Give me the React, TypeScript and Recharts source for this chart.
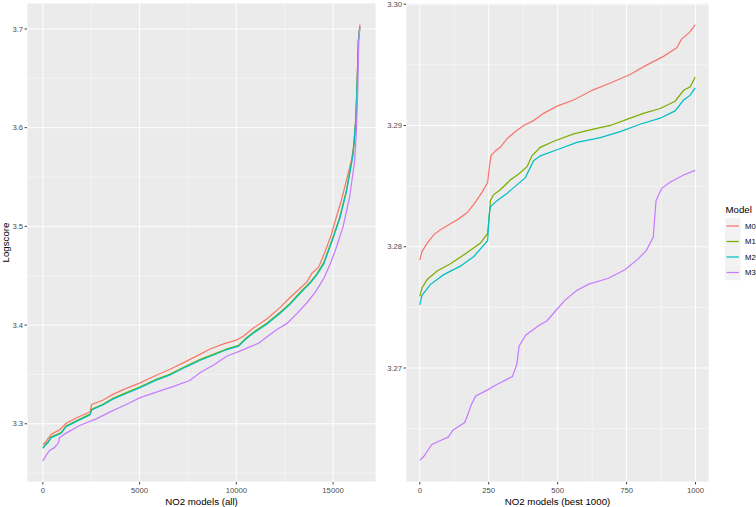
import { CartesianGrid, Legend, Line, LineChart, XAxis, YAxis } from "recharts";

type Pt = [number, number];

const models = ["M0", "M1", "M2", "M3"];
const colors = ["#F8766D", "#7CAE00", "#00BFC4", "#C77CFF"];

// left panel: all 16k models, sorted logscore
const allM0: Pt[] = [
  [0, 3.2789], [150, 3.2815], [260, 3.2848], [430, 3.2895], [860, 3.2938], [1200, 3.3005],
  [1720, 3.3058], [2330, 3.3112], [2450, 3.3125], [2520, 3.3195], [3100, 3.3238], [3620, 3.3298],
  [4310, 3.3358], [5000, 3.3412], [5860, 3.3492], [6550, 3.355], [7410, 3.3632], [8140, 3.3705],
  [8650, 3.3758], [9340, 3.381], [10000, 3.3848], [10380, 3.3889], [10900, 3.3972], [11590, 3.4065],
  [12280, 3.4182], [12790, 3.4282], [13310, 3.4375], [13650, 3.4438], [13910, 3.4525], [14260, 3.4589],
  [14570, 3.4735], [14910, 3.4915], [15170, 3.5095], [15430, 3.5262], [15690, 3.5465], [15950, 3.5668],
  [16120, 3.5872], [16210, 3.6242], [16260, 3.6579], [16310, 3.6882], [16390, 3.7045],
];
const allM1: Pt[] = [
  [0, 3.2759], [150, 3.2795], [260, 3.2815], [430, 3.2868], [950, 3.2912], [1200, 3.2978],
  [1720, 3.303], [2330, 3.3088], [2450, 3.31], [2520, 3.3148], [3100, 3.3198], [3620, 3.3258],
  [4310, 3.3315], [5000, 3.3372], [5860, 3.345], [6550, 3.35], [7410, 3.3585], [8140, 3.3652],
  [8830, 3.3705], [9520, 3.376], [10120, 3.3795], [10470, 3.3862], [10900, 3.393], [11590, 3.402],
  [12280, 3.4132], [12790, 3.4222], [13310, 3.4335], [13830, 3.4438], [14170, 3.4522], [14520, 3.4632],
  [15000, 3.4893], [15350, 3.5095], [15690, 3.5362], [16030, 3.5735], [16170, 3.607], [16240, 3.6408],
  [16310, 3.688], [16380, 3.7025],
];
const allM2: Pt[] = [
  [0, 3.2752], [150, 3.2787], [260, 3.2807], [430, 3.286], [950, 3.2904], [1200, 3.297],
  [1720, 3.3022], [2330, 3.308], [2450, 3.3092], [2520, 3.314], [3100, 3.319], [3620, 3.325],
  [4310, 3.3307], [5000, 3.3364], [5860, 3.3442], [6550, 3.3492], [7410, 3.3577], [8140, 3.3644],
  [8830, 3.3697], [9520, 3.3752], [10120, 3.3787], [10470, 3.3853], [10900, 3.3921], [11590, 3.4011],
  [12280, 3.4122], [12790, 3.4212], [13310, 3.4324], [13830, 3.4427], [14170, 3.451], [14520, 3.462],
  [15000, 3.488], [15350, 3.5082], [15690, 3.535], [16030, 3.5722], [16170, 3.6058], [16240, 3.64],
  [16310, 3.687], [16380, 3.7015],
];
const allM3: Pt[] = [
  [0, 3.2623], [170, 3.268], [345, 3.273], [600, 3.2758], [820, 3.2812], [850, 3.2858],
  [1200, 3.2905], [1900, 3.2982], [2760, 3.305], [3450, 3.3118], [4310, 3.3195], [5000, 3.3262],
  [5860, 3.332], [6720, 3.3377], [7590, 3.3438], [8140, 3.3519], [8830, 3.3596], [9520, 3.3687],
  [10120, 3.3731], [10720, 3.3781], [11150, 3.3815], [11590, 3.3882], [12100, 3.3956], [12620, 3.4017],
  [13140, 3.4118], [13650, 3.4226], [14090, 3.4337], [14520, 3.4471], [14860, 3.4623], [15120, 3.4758],
  [15520, 3.4997], [15860, 3.53], [16120, 3.567], [16210, 3.5973], [16280, 3.6411], [16330, 3.6882],
  [16390, 3.7015],
];

// right panel: best 1000 models
const bestM0: Pt[] = [
  [0, 3.2789], [8, 3.2796], [27, 3.2803], [51, 3.281], [75, 3.2814], [111, 3.2819], [141, 3.2823],
  [171, 3.2828], [196, 3.2835], [226, 3.2845], [246, 3.2853], [252, 3.2865], [258, 3.2875],
  [274, 3.2879], [292, 3.2882], [316, 3.2889], [347, 3.2895], [377, 3.29], [413, 3.2904],
  [449, 3.291], [498, 3.2916], [558, 3.2921], [625, 3.2929], [691, 3.2935], [763, 3.2942],
  [824, 3.295], [884, 3.2957], [932, 3.2964], [949, 3.2971], [979, 3.2977], [999, 3.2983],
];
const bestM1: Pt[] = [
  [0, 3.2759], [8, 3.2766], [27, 3.2773], [63, 3.278], [111, 3.2786], [171, 3.2795], [220, 3.2803],
  [246, 3.2811], [252, 3.2825], [256, 3.2838], [268, 3.2843], [292, 3.2847], [328, 3.2855],
  [359, 3.286], [389, 3.2866], [407, 3.2875], [437, 3.2882], [486, 3.2887], [558, 3.2893],
  [630, 3.2897], [691, 3.29], [751, 3.2905], [811, 3.291], [872, 3.2914], [926, 3.292],
  [957, 3.2929], [981, 3.2932], [999, 3.294],
];
const bestM2: Pt[] = [
  [0, 3.2752], [8, 3.276], [39, 3.2769], [87, 3.2777], [147, 3.2784], [196, 3.2792], [246, 3.2805],
  [252, 3.2827], [256, 3.2833], [280, 3.2838], [316, 3.2844], [347, 3.285], [383, 3.2857],
  [413, 3.2871], [437, 3.2875], [498, 3.288], [570, 3.2886], [655, 3.289], [727, 3.2895],
  [799, 3.2901], [872, 3.2906], [926, 3.2912], [957, 3.2921], [981, 3.2925], [999, 3.2931],
];
const bestM3: Pt[] = [
  [0, 3.2624], [14, 3.2627], [32, 3.2633], [44, 3.2637], [73, 3.264], [103, 3.2643], [121, 3.2649],
  [163, 3.2655], [175, 3.2662], [187, 3.267], [203, 3.2677], [246, 3.2682], [276, 3.2686],
  [336, 3.2693], [352, 3.2703], [360, 3.2718], [384, 3.2727], [432, 3.2735], [462, 3.2739],
  [492, 3.2747], [527, 3.2756], [569, 3.2764], [611, 3.2769], [684, 3.2774], [744, 3.2781],
  [792, 3.279], [822, 3.2797], [847, 3.2808], [853, 3.2827], [857, 3.2838], [877, 3.2848],
  [906, 3.2853], [955, 3.2859], [999, 3.2863],
];

const allXTicks = [0, 5000, 10000, 15000];
const allXMinor = [2500, 7500, 12500];
const allYTicks = [3.3, 3.4, 3.5, 3.6, 3.7];
const allYMinor = [3.25, 3.35, 3.45, 3.55, 3.65];
const bestXTicks = [0, 250, 500, 750, 1000];
const bestXMinor = [125, 375, 625, 875];
const bestYTicks = [3.27, 3.28, 3.29, 3.3];
const bestYMinor = [3.265, 3.275, 3.285, 3.295];

const toRows = (pts: Pt[]) => pts.map(([x, y]) => ({ x, y }));

const tickStyle = { fontSize: 7.7, fill: "#4D4D4D" };
const tickLine = { stroke: "#333333", strokeWidth: 0.94 };

function XTitle({ viewBox, text }: any) {
  return (
    <text
      x={viewBox.x + viewBox.width / 2}
      y={viewBox.y + viewBox.height - 2}
      textAnchor="middle"
      fontSize={9.7}
      fill="#000"
    >
      {text}
    </text>
  );
}

function YTitle({ viewBox, text }: any) {
  const cx = viewBox.x + 5.5;
  const cy = viewBox.y + viewBox.height / 2;
  return (
    <text
      x={cx}
      y={cy}
      transform={`rotate(-90 ${cx} ${cy})`}
      textAnchor="middle"
      dominantBaseline="central"
      fontSize={9.7}
      fill="#000"
    >
      {text}
    </text>
  );
}

function ModelLegend({ payload }: any) {
  const rows = payload ?? [];
  return (
    <svg width={40} height={84} style={{ display: "block", overflow: "visible" }}>
      <text x={0.5} y={12.6} fontSize={9.7} fill="#000">
        Model
      </text>
      {rows.map((p: any, i: number) => {
        const cy = 26 + i * 15.5;
        return (
          <g key={p.value}>
            <rect x={0} y={cy - 7.75} width={15.5} height={15.5} fill="#F2F2F2" />
            <line x1={1.5} x2={13.9} y1={cy} y2={cy} stroke={p.color} strokeWidth={1.25} />
            <text x={20} y={cy + 2.8} fontSize={7.7} fill="#000">
              {p.value}
            </text>
          </g>
        );
      })}
    </svg>
  );
}

function Panel({
  width,
  series,
  xDomain,
  yDomain,
  xTicks,
  xMinor,
  yTicks,
  yMinor,
  digits,
  xTitle,
  yTitle,
  yAxisWidth,
  marginRight,
  showLegend,
}: {
  width: number;
  series: Pt[][];
  xDomain: [number, number];
  yDomain: [number, number];
  xTicks: number[];
  xMinor: number[];
  yTicks: number[];
  yMinor: number[];
  digits: number;
  xTitle: string;
  yTitle?: string;
  yAxisWidth: number;
  marginRight: number;
  showLegend?: boolean;
}) {
  return (
    <LineChart width={width} height={507} margin={{ top: 3, right: marginRight, bottom: 0, left: 0 }}>
      <CartesianGrid fill="#EBEBEB" stroke="#FFFFFF" strokeWidth={0.94} />
      <CartesianGrid stroke="#FFFFFF" strokeWidth={0.47} horizontalValues={yMinor} verticalValues={xMinor} />
      <XAxis
        type="number"
        dataKey="x"
        domain={xDomain}
        ticks={xTicks}
        interval={0}
        allowDataOverflow
        height={25}
        axisLine={false}
        tickLine={tickLine}
        tickSize={2.4}
        tickMargin={3}
        tick={tickStyle}
        label={<XTitle text={xTitle} />}
      />
      <YAxis
        type="number"
        domain={yDomain}
        ticks={yTicks}
        interval={0}
        allowDataOverflow
        width={yAxisWidth}
        axisLine={false}
        tickLine={tickLine}
        tickSize={2.4}
        tickMargin={1.5}
        tick={tickStyle}
        tickFormatter={(v: number) => v.toFixed(digits)}
        label={yTitle ? <YTitle text={yTitle} /> : undefined}
      />
      {series.map((pts, i) => (
        <Line
          key={models[i]}
          name={models[i]}
          data={toRows(pts)}
          dataKey="y"
          type="linear"
          stroke={colors[i]}
          strokeWidth={1.25}
          dot={false}
          activeDot={false}
          isAnimationActive={false}
        />
      ))}
      {showLegend && (
        <Legend
          layout="horizontal"
          verticalAlign="middle"
          align="center"
          content={<ModelLegend />}
          wrapperStyle={{ left: 344.5, top: 200, width: 40, height: 84 }}
        />
      )}
    </LineChart>
  );
}

export default function App() {
  return (
    <div
      style={{
        position: "absolute",
        left: 0,
        top: 0,
        width: 756,
        height: 507,
        background: "#FFFFFF",
        fontFamily: '"Liberation Sans", Arial, sans-serif',
      }}
    >
      <div style={{ position: "absolute", left: 0, top: 0 }}>
        <Panel
          width={380}
          series={[allM0, allM1, allM2, allM3]}
          xDomain={[-820, 17220]}
          yDomain={[3.241, 3.7263]}
          xTicks={allXTicks}
          xMinor={allXMinor}
          yTicks={allYTicks}
          yMinor={allYMinor}
          digits={1}
          xTitle="NO2 models (all)"
          yTitle="Logscore"
          yAxisWidth={27}
          marginRight={4}
        />
      </div>
      <div style={{ position: "absolute", left: 380, top: 0 }}>
        <Panel
          width={376}
          series={[bestM0, bestM1, bestM2, bestM3]}
          xDomain={[-50, 1049]}
          yDomain={[3.2606, 3.3001]}
          xTicks={bestXTicks}
          xMinor={bestXMinor}
          yTicks={bestYTicks}
          yMinor={bestYMinor}
          digits={2}
          xTitle="NO2 models (best 1000)"
          yAxisWidth={26}
          marginRight={47}
          showLegend
        />
      </div>
    </div>
  );
}
